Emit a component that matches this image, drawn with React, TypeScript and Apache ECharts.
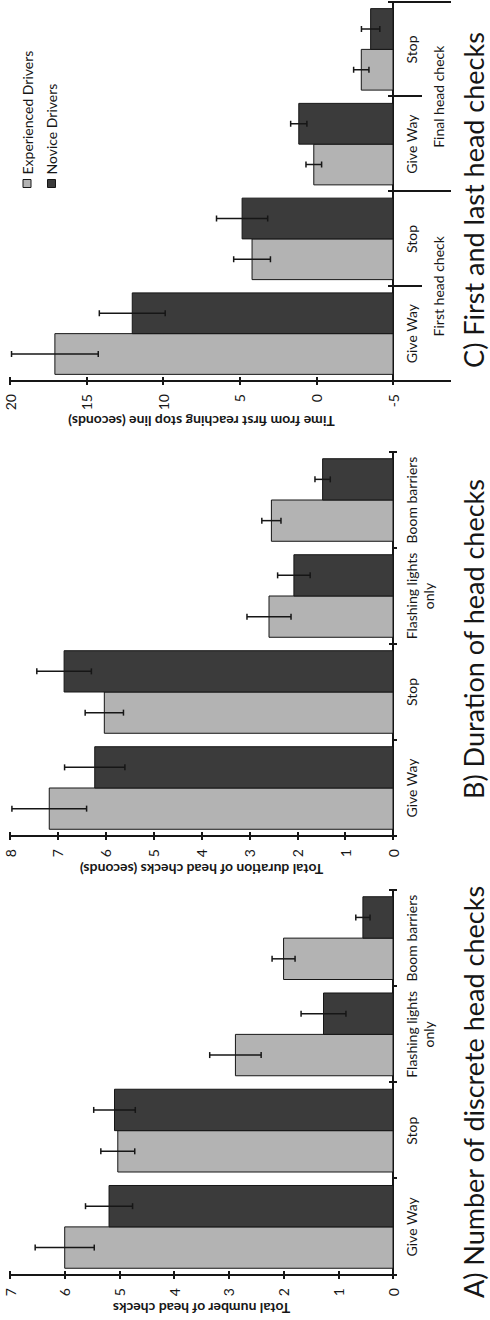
import React, { useEffect, useRef } from "react";
import * as echarts from "echarts";

// ---------- data ----------
const categoriesAB = ["Give Way", "Stop", "Flashing lights\nonly", "Boom barriers"];
const categoriesC = ["Give Way", "Stop", "Give Way", "Stop"];
const groupsC = ["First head check", "Final head check"];
const seriesNames = ["Experienced Drivers", "Novice Drivers"];

// A) Number of discrete head checks
const expA = [6.0, 5.03, 2.88, 2.0];
const expAErr = [0.54, 0.31, 0.47, 0.21];
const novA = [5.19, 5.09, 1.27, 0.55];
const novAErr = [0.43, 0.38, 0.41, 0.13];

// B) Duration of head checks (seconds)
const expB = [7.18, 6.03, 2.59, 2.54];
const expBErr = [0.78, 0.4, 0.46, 0.2];
const novB = [6.23, 6.87, 2.07, 1.47];
const novBErr = [0.63, 0.57, 0.34, 0.16];

// C) First and last head checks (seconds from first reaching stop line)
const expC = [17.07, 4.2, 0.17, -2.93];
const expCErr = [2.83, 1.2, 0.51, 0.5];
const novC = [12.02, 4.85, 1.15, -3.54];
const novCErr = [2.15, 1.67, 0.53, 0.6];

const titles = [
  "A) Number of discrete head checks",
  "B) Duration of head checks",
  "C) First and last head checks",
];
const axisNames = [
  "Total number of head checks",
  "Total duration of head checks (seconds)",
  "Time from first reaching stop line (seconds)",
];

// ---------- styles ----------
const FONT = "Lato, 'Noto Sans', sans-serif";
const INK = "#161616";
const LIGHT = "#b3b3b3";
const DARK = "#3b3b3b";

const makeRender = (side: number, color: string, base: number) => (params: any, api: any) => {
  const i = api.value(0);
  const v = api.value(1);
  const e = api.value(2);
  const band = api.size([1, 0])[0];
  const bw = band * 0.43;
  const top = api.coord([i, v]);
  const bot = api.coord([i, base]);
  const x0 = side < 0 ? top[0] - bw : top[0];
  const cx = x0 + bw / 2;
  const hi = api.coord([i, v + e])[1];
  const lo = api.coord([i, v - e])[1];
  const cap = 3;
  const ls = { stroke: INK, lineWidth: 1.5 };
  return {
    type: "group",
    children: [
      {
        type: "rect",
        shape: { x: x0, y: Math.min(top[1], bot[1]), width: bw, height: Math.abs(bot[1] - top[1]) },
        style: { fill: color, stroke: INK, lineWidth: 1 },
      },
      { type: "line", shape: { x1: cx, y1: hi, x2: cx, y2: lo }, style: ls },
      { type: "line", shape: { x1: cx - cap, y1: hi, x2: cx + cap, y2: hi }, style: ls },
      { type: "line", shape: { x1: cx - cap, y1: lo, x2: cx + cap, y2: lo }, style: ls },
    ],
  };
};

const barSeries = (
  name: string,
  values: number[],
  errs: number[],
  axisIdx: number,
  side: number,
  color: string,
  base: number
) => ({
  type: "custom",
  name,
  xAxisIndex: axisIdx,
  yAxisIndex: axisIdx,
  data: values.map((v, i) => [i, v, errs[i]]),
  encode: { x: 0, y: 1 },
  itemStyle: { color, borderColor: INK, borderWidth: 1 },
  renderItem: makeRender(side, color, base),
});

const labelStyle = { color: INK, fontFamily: FONT, fontSize: 14 };

const catMain = (gridIndex: number, data: string[], tickLen: number) => ({
  type: "category",
  gridIndex,
  data,
  position: "bottom",
  axisLine: { show: true, onZero: false, lineStyle: { color: INK, width: 2 } },
  axisTick: { show: true, length: tickLen, lineStyle: { color: INK, width: 2 } },
  axisLabel: { ...labelStyle, interval: 0, margin: 10, lineHeight: 17 },
  splitLine: { show: false },
});
const catDup = (gridIndex: number, data: string[], tickLen: number) => ({
  type: "category",
  gridIndex,
  data,
  position: "bottom",
  axisLine: { show: false, onZero: false },
  axisTick: { show: true, inside: true, length: tickLen, lineStyle: { color: INK, width: 2 } },
  axisLabel: { show: false },
  splitLine: { show: false },
});
const valMain = (gridIndex: number, min: number, max: number, interval: number, name: string, gap: number) => ({
  type: "value",
  gridIndex,
  min,
  max,
  interval,
  position: "left",
  name,
  nameLocation: "middle",
  nameGap: gap,
  nameTextStyle: { color: INK, fontFamily: FONT, fontSize: 14, fontWeight: "bold" },
  axisLine: { show: true, lineStyle: { color: INK, width: 2 } },
  axisTick: { show: true, length: 4, lineStyle: { color: INK, width: 2 } },
  axisLabel: { ...labelStyle, margin: 13 },
  splitLine: { show: false },
});
const valDup = (gridIndex: number, min: number, max: number, interval: number) => ({
  type: "value",
  gridIndex,
  min,
  max,
  interval,
  position: "left",
  axisLine: { show: false },
  axisTick: { show: true, inside: true, length: 4, lineStyle: { color: INK, width: 2 } },
  axisLabel: { show: false },
  splitLine: { show: false },
});

const titleText = (text: string, x: number) => ({
  type: "text",
  x,
  y: 473,
  style: {
    text,
    fill: INK,
    fontFamily: FONT,
    fontSize: 27,
    align: "center",
    textAlign: "center",
    verticalAlign: "middle",
    textVerticalAlign: "middle",
  },
});

export default function App() {
  const ref = useRef<HTMLDivElement>(null);
  useEffect(() => {
    if (!ref.current) return;
    const chart = echarts.init(ref.current, undefined, { renderer: "svg" });
    const option: any = {
      animation: false,
      backgroundColor: "#ffffff",
      grid: [
        { left: 45, top: 10, width: 385, height: 383 },
        { left: 484, top: 10, width: 384, height: 383 },
        { left: 939, top: 10, width: 379, height: 383 },
      ],
      xAxis: [
        catMain(0, categoriesAB, 4),
        catMain(1, categoriesAB, 4),
        catMain(2, categoriesC, 29),
        catDup(0, categoriesAB, 4),
        catDup(1, categoriesAB, 4),
        catDup(2, categoriesC, 5),
        {
          type: "category",
          gridIndex: 2,
          data: groupsC,
          position: "bottom",
          axisLine: { show: false, onZero: false },
          axisTick: { show: true, length: 58, lineStyle: { color: INK, width: 2 } },
          axisLabel: { ...labelStyle, interval: 0, margin: 38 },
          splitLine: { show: false },
        },
      ],
      yAxis: [
        valMain(0, 0, 7, 1, axisNames[0], 26),
        valMain(1, 0, 8, 1, axisNames[1], 26),
        valMain(2, -5, 20, 5, axisNames[2], 33),
        valDup(0, 0, 7, 1),
        valDup(1, 0, 8, 1),
        valDup(2, -5, 20, 5),
      ],
      legend: {
        orient: "vertical",
        left: 1127,
        top: 14,
        itemWidth: 8,
        itemHeight: 8,
        itemGap: 8.5,
        icon: "rect",
        selectedMode: false,
        itemStyle: { borderColor: INK, borderWidth: 1 },
        textStyle: { ...labelStyle, lineHeight: 16 },
        data: [
          { name: seriesNames[0], itemStyle: { color: LIGHT } },
          { name: seriesNames[1], itemStyle: { color: DARK } },
        ],
      },
      graphic: [titleText(titles[0], 228), titleText(titles[1], 681), titleText(titles[2], 1120)],
      series: [
        barSeries(seriesNames[0], expA, expAErr, 0, -1, LIGHT, 0),
        barSeries(seriesNames[1], novA, novAErr, 0, 1, DARK, 0),
        barSeries(seriesNames[0], expB, expBErr, 1, -1, LIGHT, 0),
        barSeries(seriesNames[1], novB, novBErr, 1, 1, DARK, 0),
        barSeries(seriesNames[0], expC, expCErr, 2, -1, LIGHT, -5),
        barSeries(seriesNames[1], novC, novCErr, 2, 1, DARK, -5),
      ],
    };
    chart.setOption(option);
    return () => chart.dispose();
  }, []);

  return (
    <div
      style={{
        position: "fixed",
        left: 0,
        top: 0,
        width: 490,
        height: 1320,
        overflow: "hidden",
        background: "#ffffff",
      }}
    >
      <div
        ref={ref}
        style={{
          position: "absolute",
          left: 0,
          top: 0,
          width: 1320,
          height: 490,
          transformOrigin: "0 0",
          transform: "translateY(1320px) rotate(-90deg)",
        }}
      />
    </div>
  );
}
